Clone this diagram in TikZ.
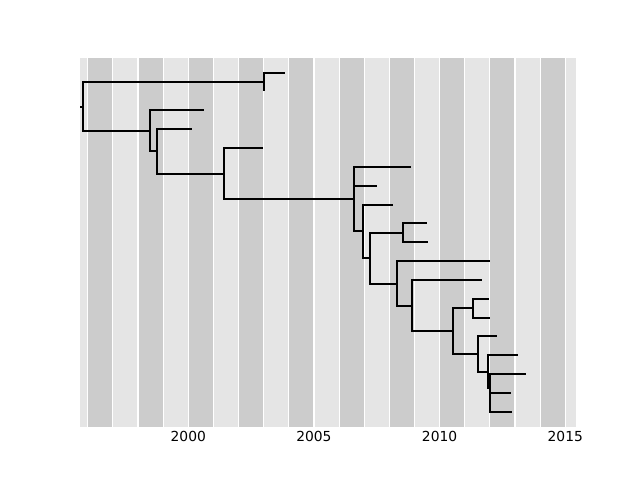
\documentclass[tikz,border=0pt]{standalone}
\usepackage{fontspec}
\setmainfont{DejaVu Sans}
\usetikzlibrary{calc}
\usepackage{xcolor}
\definecolor{bandlight}{HTML}{E5E5E5}
\definecolor{banddark}{HTML}{CCCCCC}
\tikzset{
  branch/.style={line width=1.5pt, draw=black, line join=miter},
  darkband/.style={fill=banddark},
  gridline/.style={draw=white, line width=0.8pt},
  yearlabel/.style={anchor=base, inner sep=0pt, font=\fontsize{10}{12}\selectfont}
}

\begin{document}
\begin{tikzpicture}[x=0.254mm, y=-0.254mm]
  \useasboundingbox (0,0) rectangle (640,480);
  % axes area with one band per year
  \coordinate (axnw) at (80,57.6);
  \coordinate (axse) at (576,427.2);
  \fill[bandlight] (axnw) rectangle (axse);
  \begin{scope}
    \clip (axnw) rectangle (axse);
    \foreach \yr in {1996,1998,...,2014}
      \fill[darkband] ({188.3+25.13*(\yr-2000)},57.6) rectangle ({188.3+25.13*(\yr-1999)},427.2);
    \foreach \yr in {1996,...,2015}
      \draw[gridline] ({188.3+25.13*(\yr-2000)},57.6) -- ++(0,369.6);
  \end{scope}
  \foreach \yr in {2000,2005,2010,2015}
    \node[yearlabel] (lab\yr) at ({188.3+25.13*(\yr-2000)},441.5) {\yr};

  % tips
  \coordinate (t0) at (285,73);
  \coordinate (t1) at (264,91);
  \coordinate (t2) at (204,110);
  \coordinate (t3) at (192,129);
  \coordinate (t4) at (263,148);
  \coordinate (t5) at (411,167);
  \coordinate (t6) at (377,186);
  \coordinate (t7) at (393,205);
  \coordinate (t8) at (427,223);
  \coordinate (t9) at (428,242);
  \coordinate (t10) at (490,261);
  \coordinate (t11) at (482,280);
  \coordinate (t12) at (489,299);
  \coordinate (t13) at (490,318);
  \coordinate (t14) at (497,336);
  \coordinate (t15) at (518,355);
  \coordinate (t16) at (526,374);
  \coordinate (t17) at (511,393);
  \coordinate (t18) at (512,412);
  % internal nodes
  \coordinate (stub) at (80,107);
  \coordinate (root) at (83,107);
  \coordinate (na) at (264,82);
  \coordinate (nb) at (150,131);
  \coordinate (nc) at (157,151);
  \coordinate (nd) at (224,174);
  \coordinate (ne) at (354,199);
  \coordinate (nf) at (363,231);
  \coordinate (ng) at (370,258);
  \coordinate (nh) at (403,233);
  \coordinate (ni) at (397,284);
  \coordinate (nj) at (412,306);
  \coordinate (nk) at (453,331);
  \coordinate (nl) at (473,308);
  \coordinate (nm) at (478,354);
  \coordinate (nn) at (488,372);
  \coordinate (no) at (490,388);

  \draw[branch] (stub) -- (root);
  \foreach \p/\c in {root/na, root/nb, na/t0, na/t1, nb/t2, nb/nc, nc/t3, nc/nd,
                     nd/t4, nd/ne, ne/t5, ne/t6, ne/nf, nf/t7, nf/ng, ng/nh, ng/ni,
                     nh/t8, nh/t9, ni/t10, ni/nj, nj/t11, nj/nk, nk/nl, nk/nm,
                     nl/t12, nl/t13, nm/t14, nm/nn, nn/t15, nn/no,
                     no/t16, no/t17, no/t18}
    \draw[branch] (\p) |- (\c);
\end{tikzpicture}
\end{document}
